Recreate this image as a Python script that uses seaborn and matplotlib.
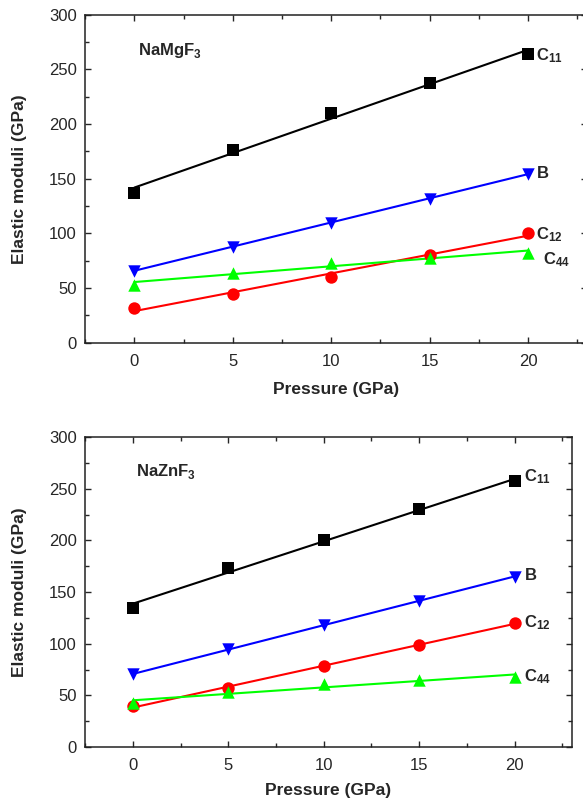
import numpy as np
import pandas as pd
import seaborn as sns
import matplotlib.pyplot as plt
from matplotlib.ticker import MultipleLocator

# pressure points (GPa)
pressure = [0, 5, 10, 15, 20]

# NaMgF3 elastic moduli (GPa)
mg_c11 = [137, 176.5, 210, 237.5, 264]
mg_b = [66, 88, 110, 132, 154.5]
mg_c12 = [31.5, 45, 60.5, 80.5, 100]
mg_c44 = [53, 64, 73, 78, 82]

# NaZnF3 elastic moduli (GPa)
zn_c11 = [135, 173, 200, 230, 257.5]
zn_b = [70.5, 94.5, 118, 141.5, 165]
zn_c12 = [39.5, 57, 78.5, 98.5, 120]
zn_c44 = [42.5, 53, 60.5, 64.5, 68]

series_names = ['C11', 'B', 'C12', 'C44']
series_labels = [r'$\mathbf{C_{11}}$', r'$\mathbf{B}$', r'$\mathbf{C_{12}}$', r'$\mathbf{C_{44}}$']
colors = ['#000000', '#0000ff', '#ff0000', '#00ff00']
markers = ['s', 'v', 'o', '^']

sns.set_style('ticks')
plt.rcParams['font.family'] = ['Liberation Sans', 'DejaVu Sans']
plt.rcParams['mathtext.fontset'] = 'custom'
plt.rcParams['mathtext.rm'] = 'Liberation Sans'
plt.rcParams['mathtext.bf'] = 'Liberation Sans:bold'


def make_df(c11, b, c12, c44):
    '''
    long-form table of one compound
    '''
    rows = []
    for name, vals in zip(series_names, [c11, b, c12, c44]):
        for p, v in zip(pressure, vals):
            rows.append({'Pressure': p, 'Modulus': v, 'Series': name})
    return pd.DataFrame(rows)


def draw_panel(ax, df, title, label_offsets, xlab_y, ylab_x):
    '''
    markers + linear fit per series, labels at the last point
    '''
    for i, name in enumerate(series_names):
        sub = df[df['Series'] == name]
        sns.regplot(data=sub, x='Pressure', y='Modulus', ax=ax, ci=None,
                    marker=markers[i], color=colors[i],
                    scatter_kws={'s': 80, 'alpha': 1, 'linewidths': 0, 'zorder': 3},
                    line_kws={'lw': 1.5, 'zorder': 2})
        last = sub.iloc[-1]
        ax.annotate(series_labels[i], (last['Pressure'], last['Modulus']),
                    xytext=label_offsets[i], textcoords='offset points',
                    ha='left', va='center', fontsize=12)

    ax.text(0.105, 0.89, title, transform=ax.transAxes, fontsize=12,
            fontweight='bold', ha='left', va='center')

    ax.set_xlim(-2.5, 23)
    ax.set_ylim(0, 300)
    ax.xaxis.set_major_locator(MultipleLocator(5))
    ax.xaxis.set_minor_locator(MultipleLocator(2.5))
    ax.yaxis.set_major_locator(MultipleLocator(50))
    ax.yaxis.set_minor_locator(MultipleLocator(25))
    ax.tick_params(which='both', direction='in', top=True, right=True,
                   labelsize=12, width=1)
    ax.tick_params(which='major', length=4)
    ax.tick_params(which='minor', length=3)
    ax.tick_params(axis='x', pad=8)
    ax.tick_params(axis='y', pad=6)
    for sp in ax.spines.values():
        sp.set_linewidth(1.1)
        sp.set_color('#222222')

    ax.set_xlabel('Pressure (GPa)', fontsize=12.5, fontweight='bold')
    ax.set_ylabel('Elastic moduli (GPa)', fontsize=12.5, fontweight='bold')
    ax.xaxis.set_label_coords(0.5, xlab_y)
    ax.yaxis.set_label_coords(ylab_x, 0.5)


mg_df = make_df(mg_c11, mg_b, mg_c12, mg_c44)
zn_df = make_df(zn_c11, zn_b, zn_c12, zn_c44)

fig = plt.figure(figsize=(5.83, 8.01), dpi=100)
ax1 = fig.add_axes([0.146, 0.572, 0.861, 0.4095])
ax2 = fig.add_axes([0.146, 0.0674, 0.835, 0.387])

draw_panel(ax1, mg_df, r'NaMgF$_\mathbf{3}$',
           [(6, -1), (6, 1), (6, -1), (11, -5)], -0.12, -0.115)
draw_panel(ax2, zn_df, r'NaZnF$_\mathbf{3}$',
           [(7, 3), (7, 1), (7, 0), (7, 0)], -0.116, -0.119)

fig.savefig('out.png', dpi=100)
